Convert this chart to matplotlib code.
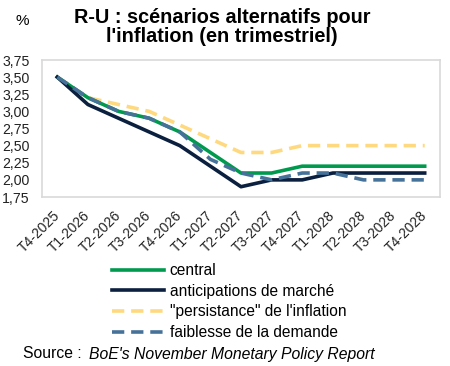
import matplotlib.pyplot as plt
from matplotlib.ticker import FuncFormatter

plt.rcParams['font.family'] = ['Liberation Sans', 'DejaVu Sans']

QUARTERS = ["T4-2025", "T1-2026", "T2-2026", "T3-2026", "T4-2026", "T1-2027",
            "T2-2027", "T3-2027", "T4-2027", "T1-2028", "T2-2028", "T3-2028",
            "T4-2028"]

central = [3.5, 3.2, 3.0, 2.9, 2.7, 2.4, 2.1, 2.1, 2.2, 2.2, 2.2, 2.2, 2.2]
marche = [3.5, 3.1, 2.9, 2.7, 2.5, 2.2, 1.9, 2.0, 2.0, 2.1, 2.1, 2.1, 2.1]
persistance = [3.5, 3.2, 3.1, 3.0, 2.8, 2.6, 2.4, 2.4, 2.5, 2.5, 2.5, 2.5, 2.5]
faiblesse = [3.5, 3.2, 3.0, 2.9, 2.7, 2.3, 2.1, 2.0, 2.1, 2.1, 2.0, 2.0, 2.0]

Y_TICKS = [1.75, 2.00, 2.25, 2.50, 2.75, 3.00, 3.25, 3.50, 3.75]

fig = plt.figure(figsize=(4.5, 3.66), dpi=100)
ax = fig.add_axes([42 / 450, 1 - 197 / 366, 398 / 450, 137 / 366])

x = range(len(QUARTERS))
ax.plot(x, persistance, color="#FFD97F", lw=2.6, dashes=(3.4, 1.9),
        label='"persistance" de l\'inflation')
ax.plot(x, central, color="#009A4E", lw=2.6, label="central")
ax.plot(x, marche, color="#0B1F3F", lw=2.6, label="anticipations de marché")
ax.plot(x, faiblesse, color="#46729A", lw=2.6, dashes=(3.4, 1.9),
        label="faiblesse de la demande")

ax.set_xlim(-0.5, len(QUARTERS) - 0.5)
ax.set_ylim(1.75, 3.75)
ax.set_yticks(Y_TICKS)
ax.yaxis.set_major_formatter(FuncFormatter(lambda v, p: f"{v:.2f}".replace(".", ",")))
ax.set_xticks(list(x))
ax.set_xticklabels(QUARTERS, rotation=45, ha="right", va="center",
                   rotation_mode="anchor")
ax.tick_params(length=0, colors="#222222")
ax.tick_params(axis="y", pad=9, labelsize=10.2)
ax.tick_params(axis="x", pad=12, labelsize=10)
for s in ax.spines.values():
    s.set_color("#D9D9D9")
    s.set_linewidth(1.2)

fig.text(22 / 450, 1 - 21 / 366, "%", ha="center", va="center", fontsize=11)
fig.text(222 / 450, 1 - 27 / 366,
         "R-U : scénarios alternatifs pour\nl'inflation (en trimestriel)",
         ha="center", va="center", fontsize=14.3, fontweight="bold",
         linespacing=1.05)

handles, labels = ax.get_legend_handles_labels()
order = [1, 2, 0, 3]
fig.legend([handles[i] for i in order], [labels[i] for i in order],
           loc="upper left", bbox_to_anchor=(106 / 450, 1 - 257 / 366),
           frameon=False, fontsize=11.2, handlelength=3.3,
           labelspacing=0.36, handletextpad=0.4, borderaxespad=0)

fig.text(23 / 450, 1 - 354 / 366, "Source : ", ha="left", va="center",
         fontsize=11.3)
fig.text(89 / 450, 1 - 354 / 366, "BoE's November Monetary Policy Report",
         ha="left", va="center", fontsize=11.3, style="italic")

fig.savefig("out.png", dpi=100)
